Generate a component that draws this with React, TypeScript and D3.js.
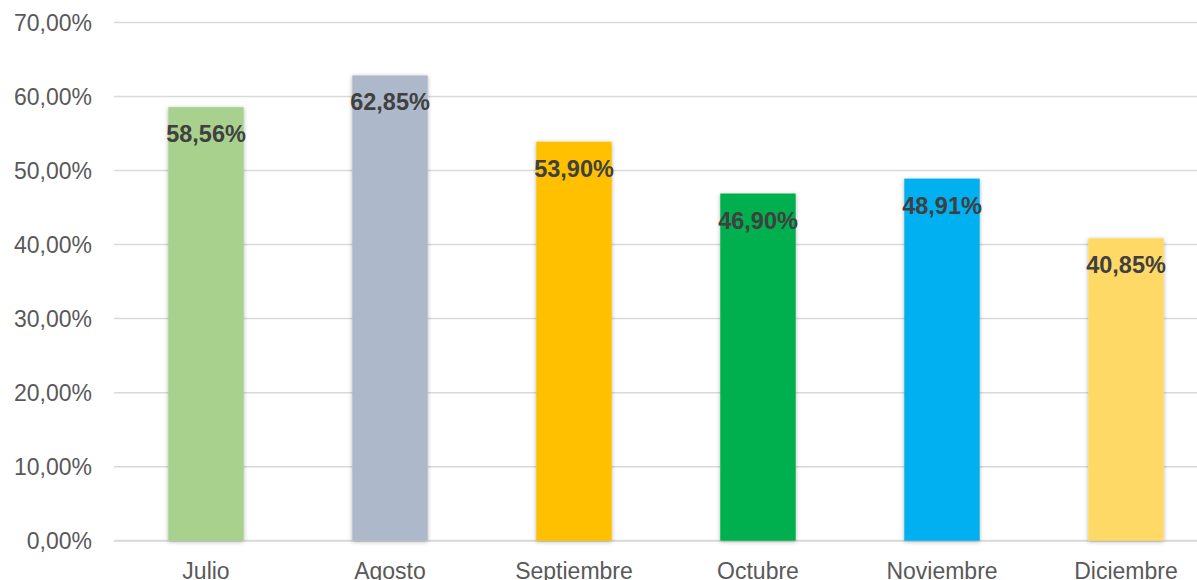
import React from "react";
import * as d3 from "d3";

const categories = ["Julio", "Agosto", "Septiembre", "Octubre", "Noviembre", "Diciembre"];
const values = [58.56, 62.85, 53.9, 46.9, 48.91, 40.85];
const colors = ["#A9D18E", "#ADB9CA", "#FFC000", "#00B050", "#00B0F0", "#FFD966"];
const yTicks = [0, 10, 20, 30, 40, 50, 60, 70];

const W = 1197;
const H = 580;

const fmt = (v: number, d = 2) => v.toFixed(d).replace(".", ",") + "%";

export default function App() {
  const x = d3
    .scaleBand<string>()
    .domain(categories)
    .range([114, 1218])
    .paddingInner(0.59)
    .paddingOuter(0.295);
  const y = d3.scaleLinear().domain([0, 70]).range([540.7, 22.5]);
  const font = "'Liberation Sans', Arial, sans-serif";

  return (
    <div style={{ position: "fixed", left: 0, top: 0 }}>
      <svg width={W} height={H} style={{ display: "block", background: "#fff" }}>
        <defs>
          <filter id="sh" x="-20%" y="-5%" width="140%" height="110%">
            <feDropShadow dx="0" dy="1" stdDeviation="2" floodColor="#000" floodOpacity="0.3" />
          </filter>
        </defs>
        {yTicks.map((t) => (
          <g key={t}>
            <line x1={114} x2={W} y1={y(t)} y2={y(t)} stroke="#D9D9D9" strokeWidth={t === 0 ? 2 : 1.5} />
            <text
              x={92}
              y={y(t)}
              textAnchor="end"
              dominantBaseline="central"
              fontFamily={font}
              fontSize={23}
              fill="#595959"
            >
              {fmt(t)}
            </text>
          </g>
        ))}
        {categories.map((c, i) => (
          <g key={c}>
            <rect
              x={x(c)!}
              y={y(values[i])}
              width={x.bandwidth()}
              height={y(0) - y(values[i])}
              fill={colors[i]}
              filter="url(#sh)"
            />
            <text
              x={x(c)! + x.bandwidth() / 2}
              y={y(values[i]) + 35}
              textAnchor="middle"
              fontFamily={font}
              fontWeight="bold"
              fontSize={23.5}
              fill="#404040"
            >
              {fmt(values[i])}
            </text>
            <text
              x={x(c)! + x.bandwidth() / 2}
              y={579}
              textAnchor="middle"
              fontFamily={font}
              fontSize={23}
              fill="#595959"
            >
              {c}
            </text>
          </g>
        ))}
      </svg>
    </div>
  );
}
